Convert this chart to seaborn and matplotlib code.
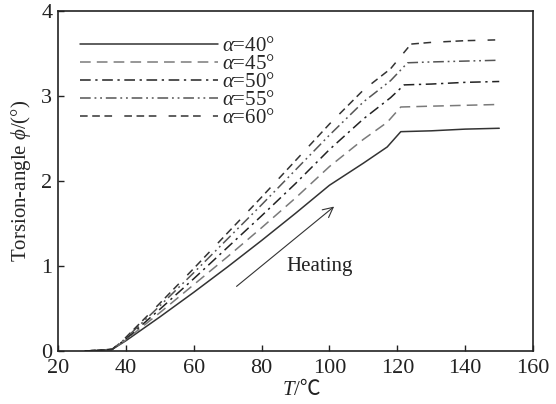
import matplotlib
matplotlib.use("Agg")
import matplotlib.pyplot as plt
import pandas as pd
import seaborn as sns

# curve values (T in degC, torsion angle in degrees)
t_40 = [28, 36, 40, 50, 60, 70, 80, 90, 100, 110, 117, 121, 130, 140, 150]
phi_40 = [0.0, 0.02, 0.12, 0.40, 0.69, 0.99, 1.30, 1.62, 1.95, 2.21, 2.40, 2.58, 2.59, 2.61, 2.62]

t_45 = [28, 36, 40, 50, 60, 70, 80, 90, 100, 110, 117, 121, 130, 140, 150]
phi_45 = [0.0, 0.02, 0.13, 0.45, 0.78, 1.11, 1.45, 1.80, 2.17, 2.49, 2.69, 2.87, 2.88, 2.89, 2.90]

t_50 = [28, 36, 40, 50, 60, 70, 80, 90, 100, 110, 118, 122, 130, 140, 150]
phi_50 = [0.0, 0.02, 0.14, 0.49, 0.85, 1.22, 1.59, 1.97, 2.37, 2.73, 2.98, 3.13, 3.14, 3.16, 3.17]

t_55 = [28, 36, 40, 50, 60, 70, 80, 90, 100, 110, 118, 123, 130, 140, 150]
phi_55 = [0.0, 0.02, 0.15, 0.53, 0.92, 1.32, 1.72, 2.13, 2.54, 2.93, 3.18, 3.39, 3.40, 3.41, 3.42]

t_60 = [28, 36, 40, 50, 60, 70, 80, 90, 100, 110, 118, 124, 130, 140, 150]
phi_60 = [0.0, 0.02, 0.16, 0.56, 0.97, 1.39, 1.81, 2.24, 2.67, 3.07, 3.32, 3.61, 3.63, 3.65, 3.66]

labels = [r"$\alpha$=40°", r"$\alpha$=45°", r"$\alpha$=50°", r"$\alpha$=55°", r"$\alpha$=60°"]
x_ticks = [20, 40, 60, 80, 100, 120, 140, 160]
y_ticks = [0, 1, 2, 3, 4]

sns.set_theme(style="ticks")
plt.rcParams["font.family"] = ["Liberation Serif", "Noto Sans CJK SC", "DejaVu Serif"]
plt.rcParams["mathtext.fontset"] = "custom"
plt.rcParams["mathtext.rm"] = "Liberation Serif"
plt.rcParams["mathtext.it"] = "Liberation Serif:italic"

curves = [(t_40, phi_40), (t_45, phi_45), (t_50, phi_50), (t_55, phi_55), (t_60, phi_60)]
styles = [
    ("#333333", "-"),
    ("#7a7a7a", (0, (7, 4))),
    ("#222222", (0, (7, 3, 1.5, 3))),
    ("#555555", (0, (7, 2.5, 1.2, 2.5, 1.2, 2.5))),
    ("#333333", (0, (5, 3, 5, 3, 5, 8))),
]

fig = plt.figure(figsize=(5.56, 4.04), dpi=100)
ax = fig.add_axes([0.104, 0.131, 0.855, 0.842])

for (t, phi), label, (color, ls) in zip(curves, labels, styles):
    frame = pd.DataFrame({"T": t, "phi": phi})
    sns.lineplot(data=frame, x="T", y="phi", ax=ax, color=color, linestyle=ls,
                 linewidth=1.1, label=label)

ax.set_xlim(20, 160)
ax.set_ylim(0, 4)
ax.set_xticks(x_ticks)
ax.set_yticks(y_ticks)
ax.tick_params(direction="in", length=4, width=1, labelsize=16, colors="#222222", pad=4)
ax.tick_params(axis="x", pad=6)
for side in ["left", "bottom", "right", "top"]:
    ax.spines[side].set_linewidth(1.2)
    ax.spines[side].set_color("#222222")

# x label: italic T followed by "/℃" (℃ comes from the CJK font)
ax.set_xlabel("")
ax.text(0.497, -0.115, "T", transform=ax.transAxes, fontsize=15, style="italic",
        ha="right", va="center", color="#222222")
ax.text(0.497, -0.115, "/℃", transform=ax.transAxes, fontsize=15,
        ha="left", va="center", color="#222222")
ax.set_ylabel(r"Torsion-angle $\phi$/(°)", fontsize=15, labelpad=6)

ax.annotate("", xy=(102, 1.72), xytext=(72, 0.74),
            arrowprops=dict(arrowstyle="->", color="#333333", lw=0.8, mutation_scale=18))
ax.text(87.4, 1.0, "Heating", fontsize=15, va="center", ha="left", color="#222222")

leg = ax.legend(loc="upper left", bbox_to_anchor=(0.03, 0.95), frameon=False,
                fontsize=15, handlelength=6.6, handletextpad=0.2, labelspacing=-0.07,
                borderaxespad=0.0)

fig.savefig("out.png", dpi=100)
plt.close(fig)
